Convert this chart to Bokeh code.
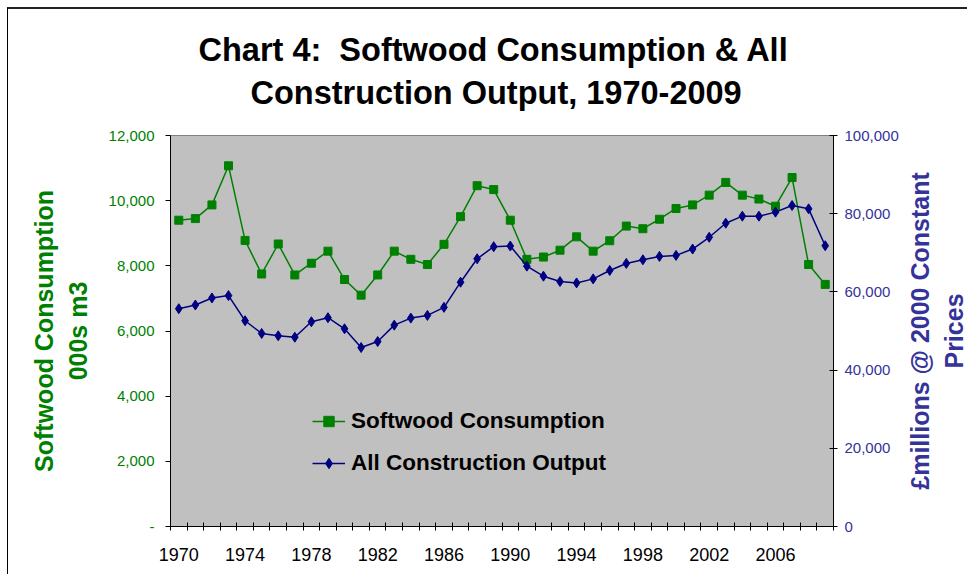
from bokeh.plotting import figure
from bokeh.layouts import row
from bokeh.models import (LinearAxis, Range1d, FixedTicker, NumeralTickFormatter,
                          Legend, LegendItem, Title)
from bokeh.embed import file_html
from bokeh.resources import INLINE

years = list(range(1970, 2010))
softwood = [9400, 9450, 9870, 11070, 8780, 7750, 8670, 7720, 8080, 8450,
            7580, 7100, 7720, 8450, 8200, 8040, 8660, 9510, 10460, 10340,
            9400, 8200, 8270, 8480, 8890, 8450, 8770, 9220, 9140, 9430,
            9760, 9870, 10170, 10560, 10170, 10050, 9830, 10710, 8040, 7430]
construction = [55700, 56650, 58450, 59050, 52620, 49370, 48770, 48420, 52360, 53400,
                50570, 45770, 47310, 51500, 53300, 53990, 56050, 62480, 68470, 71560,
                71730, 66590, 64020, 62650, 62300, 63330, 65480, 67280, 68210, 69080,
                69340, 70960, 73970, 77570, 79370, 79370, 80400, 82090, 81240, 71810]
year_labels = [1970, 1974, 1978, 1982, 1986, 1990, 1994, 1998, 2002, 2006]
left_ticks = [0, 2000, 4000, 6000, 8000, 10000, 12000]
right_ticks = [0, 20000, 40000, 60000, 80000, 100000]

title_lines = ["Chart 4:\u00a0 Softwood Consumption & All", "Construction Output, 1970-2009"]
series_names = ["Softwood Consumption", "All Construction Output"]
left_label = "Softwood Consumption\n000s m3"
right_label = "£millions @ 2000 Constant\nPrices"

FONT = "Liberation Sans"
GREEN = "#008000"
NAVY = "#000080"
NAVY_TXT = "#333399"

p = figure(frame_width=662, frame_height=389,
           x_range=Range1d(years[0] - 0.5, years[-1] + 0.5),
           y_range=Range1d(0, 12000),
           output_backend="svg", toolbar_location=None,
           min_border_left=162, min_border_top=126, min_border_right=70, min_border_bottom=50,
           background_fill_color="#C0C0C0", border_fill_color="white",
           x_axis_location=None, y_axis_location=None, title=None)
p.styles = {"border-left": "1px solid black", "border-top": "2px solid #222222"}
p.outline_line_color = "#808080"
p.xgrid.visible = False
p.ygrid.visible = False
p.extra_y_ranges = {"right": Range1d(0, 100000)}

# left axis
ly = LinearAxis(ticker=FixedTicker(ticks=left_ticks),
                formatter=NumeralTickFormatter(format="0,0"))
ly.major_label_overrides = {0: "-"}
ly.major_tick_in = 0
ly.major_tick_out = 5
ly.minor_tick_out = 0
ly.minor_tick_in = 0
ly.axis_line_color = "black"
ly.major_tick_line_color = "black"
ly.major_label_text_color = GREEN
ly.major_label_text_font = FONT
ly.major_label_text_font_size = "15px"
ly.major_label_standoff = 11
ly.axis_label = left_label
ly.axis_label_text_color = GREEN
ly.axis_label_text_font = FONT
ly.axis_label_text_font_style = "bold"
ly.axis_label_text_font_size = "25px"
ly.axis_label_standoff = 14
p.add_layout(ly, "left")

# right axis (ticks and numbers)
ry = LinearAxis(y_range_name="right", ticker=FixedTicker(ticks=right_ticks),
                formatter=NumeralTickFormatter(format="0,0"))
ry.major_tick_in = 4
ry.major_tick_out = 4
ry.minor_tick_out = 0
ry.minor_tick_in = 0
ry.axis_line_color = "black"
ry.major_tick_line_color = "black"
ry.major_label_text_color = NAVY_TXT
ry.major_label_text_font = FONT
ry.major_label_text_font_size = "15px"
ry.major_label_standoff = 7
p.add_layout(ry, "right")

# x axis: labels at category centres, tick marks at category boundaries
xa = LinearAxis(ticker=FixedTicker(ticks=year_labels,
                                   minor_ticks=[y - 0.5 for y in years] + [years[-1] + 0.5]))
xa.major_label_overrides = {y: str(y) for y in year_labels}
xa.axis_line_color = "black"
xa.major_tick_line_color = None
xa.major_tick_in = 0
xa.major_tick_out = 0
xa.minor_tick_line_color = "black"
xa.minor_tick_in = 4
xa.minor_tick_out = 4
xa.major_label_standoff = 17
xa.major_label_text_font = FONT
xa.major_label_text_font_size = "18px"
xa.major_label_text_color = "black"
p.add_layout(xa, "below")

# series
l1 = p.line(years, softwood, line_color=GREEN, line_width=1.5)
m1 = p.scatter(years, softwood, marker="square", size=8, fill_color=GREEN, line_color=GREEN)
l2 = p.line(years, construction, line_color=NAVY, line_width=1.5, y_range_name="right")
m2 = p.scatter(years, construction, marker="diamond", size=10, fill_color=NAVY,
               line_color=NAVY, y_range_name="right")

legend = Legend(items=[LegendItem(label=series_names[0], renderers=[l1, m1]),
                       LegendItem(label=series_names[1], renderers=[l2, m2])],
                location=(142, 50), orientation="vertical")
legend.background_fill_alpha = 0
legend.border_line_color = None
legend.padding = 0
legend.margin = 0
legend.spacing = 16
legend.glyph_width = 33
legend.glyph_height = 26
legend.label_height = 26
legend.label_standoff = 6
legend.label_text_font = FONT
legend.label_text_font_style = "bold"
legend.label_text_font_size = "22.5px"
legend.label_text_color = "black"
p.add_layout(legend, "center")

# title: two lines; the first one added sits next to the frame
p.add_layout(Title(text=title_lines[1], align="left", offset=80, standoff=49,
                   text_font=FONT, text_font_style="bold", text_font_size="32.5px",
                   text_color="black"), "above")
p.add_layout(Title(text=title_lines[0], align="left", offset=28, standoff=-39,
                   text_font=FONT, text_font_style="bold", text_font_size="32.5px",
                   text_color="black"), "above")

# right-hand axis title, drawn as the left-axis label of a narrow companion figure
# so that it reads bottom-to-top like the reference
p2 = figure(frame_width=1, frame_height=389, x_range=Range1d(0, 1),
            y_range=Range1d(0, 100000),
            output_backend="svg", toolbar_location=None,
            min_border_left=63, min_border_top=126, min_border_right=0, min_border_bottom=50,
            background_fill_color="white", border_fill_color="white",
            x_axis_location=None, y_axis_location=None, title=None)
p2.styles = {"border-top": "2px solid #222222"}
p2.outline_line_color = None
p2.xgrid.visible = False
p2.ygrid.visible = False
ra = LinearAxis(ticker=FixedTicker(ticks=[]))
ra.axis_line_color = None
ra.major_tick_line_color = None
ra.minor_tick_line_color = None
ra.major_tick_in = 0
ra.major_tick_out = 0
ra.major_label_standoff = 0
ra.axis_label = right_label
ra.axis_label_text_color = NAVY_TXT
ra.axis_label_text_font = FONT
ra.axis_label_text_font_style = "bold"
ra.axis_label_text_font_size = "25px"
ra.axis_label_standoff = 0
p2.add_layout(ra, "left")

layout = row(p, p2, margin=(7, 0, 0, 7), spacing=0)

open("out.html", "w").write(file_html(layout, INLINE))
